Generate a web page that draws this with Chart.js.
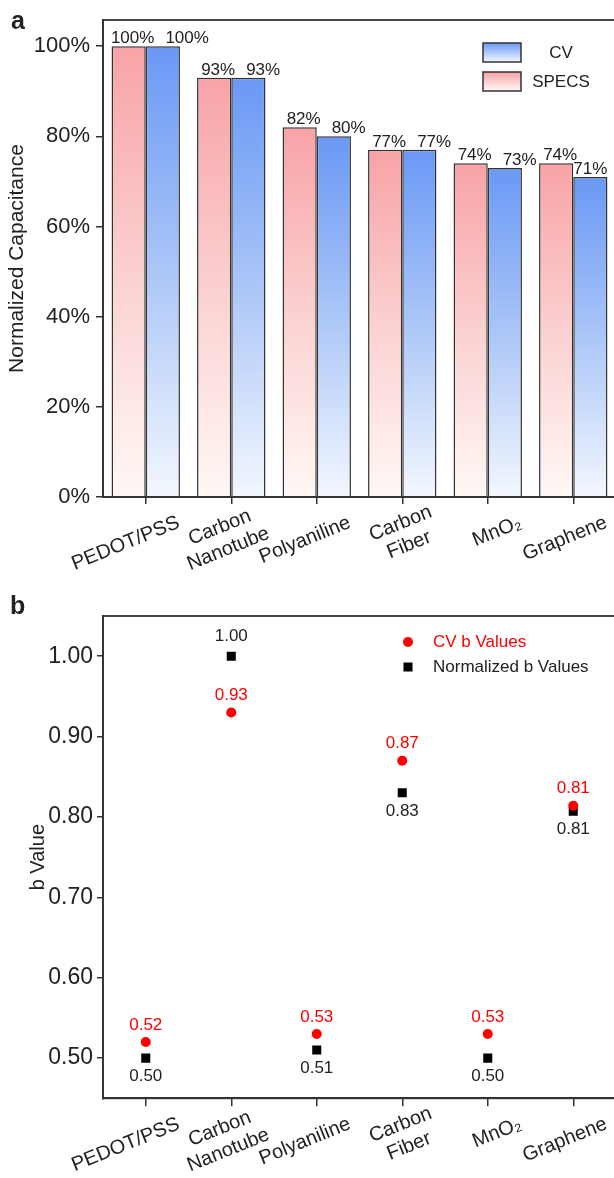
<!DOCTYPE html>
<html>
<head>
<meta charset="utf-8">
<script src="https://cdn.jsdelivr.net/npm/chart.js@4.4.1/dist/chart.umd.min.js"></script>
<style>
    html, body { margin: 0; padding: 0; background: #fff; overflow: hidden; }
    #wrap { position: relative; width: 614px; height: 1178px; overflow: hidden; }
    canvas { position: absolute; left: 0; }
    #chartA { top: 0; }
    #chartB { top: 590px; }
    .panel { position: absolute; font: bold 25px "Liberation Sans", Arial, sans-serif; line-height: 25px; color: #222; }
</style>
</head>
<body>
<div id="wrap">
    <canvas id="chartA" width="640" height="590"></canvas>
    <canvas id="chartB" width="640" height="588"></canvas>
    <div class="panel" style="left:11px; top:8px;">a</div>
    <div class="panel" style="left:10px; top:593px;">b</div>
</div>
<script>
const categories = ["PEDOT/PSS", ["Carbon", "Nanotube"], "Polyaniline", ["Carbon", "Fiber"], "MnO₂", "Graphene"];

// panel a
const specsValues = [100, 93, 82, 77, 74, 74];
const cvValues = [100, 93, 80, 77, 73, 71];
const capTicks = [0, 20, 40, 60, 80, 100];

// panel b
const cvB = [0.52, 0.93, 0.53, 0.87, 0.53, 0.814];
const normB = [0.50, 1.00, 0.51, 0.83, 0.50, 0.807];
const bTicks = [0.5, 0.6, 0.7, 0.8, 0.9, 1.0];

const FONT = '"Liberation Sans", Arial, sans-serif';
const INK = "#222";
const AXIS = "#333";
const PINK = ["#f8a3a6", "#fbd0d1", "#fff8f5"];
const BLUE = ["#6a98f5", "#abc6f7", "#f3f7fe"];

Chart.defaults.font.family = FONT;
Chart.defaults.color = INK;

const barFill = (stops) => (ctx) => {
    const chart = ctx.chart;
    if (!chart.chartArea || ctx.raw == null) return stops[0];
    const y = chart.scales.y;
    const g = chart.ctx.createLinearGradient(0, y.getPixelForValue(ctx.raw), 0, y.getPixelForValue(0));
    g.addColorStop(0, stops[0]);
    g.addColorStop(0.5, stops[1]);
    g.addColorStop(1, stops[2]);
    return g;
};

// box around the plot area
const frame = {
    id: "frame",
    afterDraw(chart) {
        const { ctx, chartArea: a } = chart;
        ctx.save();
        ctx.strokeStyle = AXIS;
        ctx.lineWidth = 1.8;
        ctx.strokeRect(a.left, a.top, a.right - a.left, a.bottom - a.top);
        ctx.restore();
    },
};

// slanted category labels, lines centred on each other
const slantLabels = {
    id: "slantLabels",
    afterDraw(chart, args, opts) {
        const sx = chart.scales.x, ctx = chart.ctx;
        ctx.save();
        ctx.font = opts.size + "px " + FONT;
        ctx.fillStyle = INK;
        ctx.textAlign = "center";
        ctx.textBaseline = "middle";
        chart.data.labels.forEach((lab, i) => {
            const lines = [].concat(lab);
            const w = Math.max(...lines.map(l => ctx.measureText(l).width));
            ctx.save();
            ctx.translate(sx.getPixelForTick(i) + opts.dx, sx.top + opts.dy);
            ctx.rotate(-opts.angle * Math.PI / 180);
            lines.forEach((l, k) => ctx.fillText(l, -w / 2, (k - (lines.length - 1) / 2) * opts.lineHeight));
            ctx.restore();
        });
        ctx.restore();
    },
};

const barValues = {
    id: "barValues",
    afterDatasetsDraw(chart) {
        const ctx = chart.ctx;
        const pink = chart.getDatasetMeta(0).data, blue = chart.getDatasetMeta(1).data;
        ctx.save();
        ctx.font = "17px " + FONT;
        ctx.fillStyle = INK;
        ctx.textAlign = "center";
        ctx.textBaseline = "alphabetic";
        pink.forEach((bar, i) => {
            const t1 = specsValues[i] + "%", t2 = cvValues[i] + "%";
            const w1 = ctx.measureText(t1).width, w2 = ctx.measureText(t2).width;
            const x1 = bar.x + 4;
            let x2 = blue[i].x;
            if (Math.abs(specsValues[i] - cvValues[i]) < 3) x2 = Math.max(x2, x1 + w1 / 2 + 11 + w2 / 2);
            ctx.fillText(t1, x1, bar.y - 3);
            ctx.fillText(t2, x2, blue[i].y - 3);
        });
        ctx.restore();
    },
};

const legendA = {
    id: "legendA",
    afterDraw(chart) {
        const { ctx, chartArea: a } = chart;
        const items = [["CV", BLUE], ["SPECS", PINK]];
        ctx.save();
        ctx.font = "17px " + FONT;
        ctx.textAlign = "center";
        ctx.textBaseline = "middle";
        items.forEach(([text, stops], k) => {
            const x = a.left + 380, y = a.top + 23 + k * 29;
            const g = ctx.createLinearGradient(0, y, 0, y + 19);
            g.addColorStop(0, stops[0]);
            g.addColorStop(1, stops[2]);
            ctx.fillStyle = g;
            ctx.fillRect(x, y, 38, 19);
            ctx.strokeStyle = AXIS;
            ctx.lineWidth = 1.5;
            ctx.strokeRect(x, y, 38, 19);
            ctx.fillStyle = INK;
            ctx.fillText(text, x + 38 + 40, y + 10);
        });
        ctx.restore();
    },
};

const pointValues = {
    id: "pointValues",
    afterDatasetsDraw(chart) {
        const ctx = chart.ctx;
        const red = chart.getDatasetMeta(0).data, blk = chart.getDatasetMeta(1).data;
        ctx.save();
        ctx.font = "17px " + FONT;
        ctx.textAlign = "center";
        ctx.textBaseline = "middle";
        red.forEach((p, i) => {
            ctx.fillStyle = "#ff0000";
            ctx.fillText(cvB[i].toFixed(2), p.x, p.y - 17);
        });
        blk.forEach((p, i) => {
            ctx.fillStyle = INK;
            const above = normB[i] > cvB[i];
            ctx.fillText(normB[i].toFixed(2), p.x, above ? p.y - 20 : p.y + 18);
        });
        ctx.restore();
    },
};

const legendB = {
    id: "legendB",
    afterDraw(chart) {
        const { ctx, chartArea: a } = chart;
        const x = a.left + 305;
        ctx.save();
        ctx.font = "17px " + FONT;
        ctx.textBaseline = "middle";
        ctx.textAlign = "left";
        ctx.fillStyle = "#ff0000";
        ctx.beginPath();
        ctx.arc(x, a.top + 26, 5, 0, Math.PI * 2);
        ctx.fill();
        ctx.fillText("CV b Values", x + 25, a.top + 26);
        ctx.fillStyle = "#000";
        ctx.fillRect(x - 4.5, a.top + 51 - 4.5, 9, 9);
        ctx.fillStyle = INK;
        ctx.fillText("Normalized b Values", x + 25, a.top + 51);
        ctx.restore();
    },
};

const axisGrid = (tick) => ({
    display: true, drawOnChartArea: false, drawTicks: true,
    tickLength: tick, color: AXIS, lineWidth: 1.5, offset: false,
});
const axisBorder = { display: true, color: AXIS, width: 1.8 };
const slant = { size: 20, dx: 33, dy: 25, angle: 22, lineHeight: 23 };

new Chart(document.getElementById("chartA"), {
    type: "bar",
    plugins: [frame, slantLabels, barValues, legendA],
    data: {
        labels: categories,
        datasets: [
            { label: "SPECS", data: specsValues, backgroundColor: barFill(PINK), borderColor: AXIS, borderWidth: 1.5 },
            { label: "CV", data: cvValues, backgroundColor: barFill(BLUE), borderColor: AXIS, borderWidth: 1.5 },
        ],
    },
    options: {
        responsive: false,
        animation: false,
        layout: { padding: { top: 20, right: 24, left: 0, bottom: 0 } },
        datasets: { bar: { categoryPercentage: 0.8, barPercentage: 1.0 } },
        scales: {
            x: {
                offset: true,
                grid: axisGrid(7),
                border: axisBorder,
                ticks: { display: false },
                afterFit(s) { s.height = 93; },
            },
            y: {
                min: 0, max: 105.8,
                afterBuildTicks(s) { s.ticks = capTicks.map(v => ({ value: v })); },
                grid: axisGrid(7),
                border: axisBorder,
                ticks: { callback: v => v + "%", font: { size: 22 }, color: INK, padding: 6 },
                title: { display: true, text: "Normalized Capacitance", font: { size: 21 }, color: INK, padding: { top: 5, bottom: 0 } },
                afterFit(s) { s.width = 103; },
            },
        },
        plugins: {
            legend: { display: false },
            tooltip: { enabled: false },
            slantLabels: slant,
        },
    },
});

new Chart(document.getElementById("chartB"), {
    type: "line",
    plugins: [frame, slantLabels, pointValues, legendB],
    data: {
        labels: categories,
        datasets: [
            { label: "CV b Values", data: cvB, showLine: false, pointStyle: "circle", pointRadius: 5,
              backgroundColor: "#ff0000", borderColor: "#ff0000", borderWidth: 0 },
            { label: "Normalized b Values", data: normB, showLine: false, pointStyle: "rect", pointRadius: 6.4,
              backgroundColor: "#000", borderColor: "#000", borderWidth: 0 },
        ],
    },
    options: {
        responsive: false,
        animation: false,
        layout: { padding: { top: 26, right: 24, left: 0, bottom: 0 } },
        scales: {
            x: {
                offset: true,
                grid: axisGrid(8),
                border: axisBorder,
                ticks: { display: false },
                afterFit(s) { s.height = 79.7; },
            },
            y: {
                min: 0.45, max: 1.05,
                afterBuildTicks(s) { s.ticks = bTicks.map(v => ({ value: v })); },
                grid: axisGrid(6),
                border: axisBorder,
                ticks: { callback: v => v.toFixed(2), font: { size: 23 }, color: INK, padding: 4 },
                title: { display: true, text: "b Value", font: { size: 20 }, color: INK, padding: { top: 26, bottom: 0 } },
                afterFit(s) { s.width = 103; },
            },
        },
        plugins: {
            legend: { display: false },
            tooltip: { enabled: false },
            slantLabels: slant,
        },
    },
});
</script>
</body>
</html>
